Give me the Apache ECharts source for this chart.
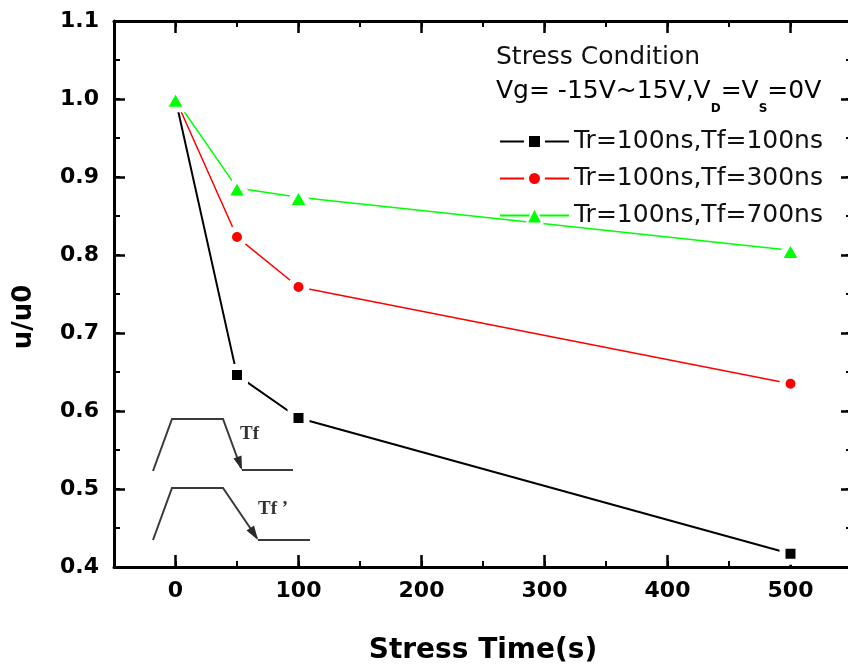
<!DOCTYPE html>
<html>
<head>
<meta charset="utf-8">
<title>Mobility degradation under pulse stress</title>
<script src="https://cdn.jsdelivr.net/npm/echarts@6/dist/echarts.min.js"></script>
<style>
  html, body { margin: 0; padding: 0; background: #fff; overflow: hidden; }
  #chart { width: 848px; height: 666px; }
</style>
</head>
<body>
<div id="chart"></div>
<script>
// Stress time (s) at which mobility ratio was measured
const stressTime = [0, 50, 100, 500];
// u/u0 for each fall-time condition
const tf100 = [1.0, 0.646, 0.591, 0.417];
const tf300 = [1.0, 0.823, 0.759, 0.635];
const tf700 = [1.0, 0.886, 0.874, 0.806];
const seriesNames = ['Tr=100ns,Tf=100ns', 'Tr=100ns,Tf=300ns', 'Tr=100ns,Tf=700ns'];

// Tick positions
const xMajor = [0, 100, 200, 300, 400, 500];
const yMajor = [0.4, 0.5, 0.6, 0.7, 0.8, 0.9, 1.0, 1.1];
const yLabels = ['0.4', '0.5', '0.6', '0.7', '0.8', '0.9', '1.0', '1.1'];

const X_MIN = -50, X_MAX = 550, Y_MIN = 0.4, Y_MAX = 1.1;

const tickFont = { fontFamily: 'DejaVu Sans', fontWeight: 'bold', fontSize: 22, color: '#000' };
const frame = { color: '#000', width: 3 };

function pairs(ys) { return stressTime.map((x, i) => [x, ys[i]]); }

// Frame axes: one set draws line, labels and short ticks; an overlay set draws the long major ticks.
function xAxisSet(position, withLabels) {
  return [
    {
      type: 'value', position, min: X_MIN, max: X_MAX, interval: 50,
      axisLine: { show: true, onZero: false, lineStyle: frame },
      axisTick: { show: true, inside: true, length: 6, lineStyle: { color: '#000', width: 2 } },
      axisLabel: withLabels
        ? Object.assign({ show: true, margin: 13, customValues: xMajor }, tickFont)
        : { show: false },
      splitLine: { show: false },
      name: withLabels ? 'Stress Time(s)' : '',
      nameLocation: 'middle', nameGap: 70,
      nameTextStyle: { fontFamily: 'DejaVu Sans', fontWeight: 'bold', fontSize: 28, color: '#000' }
    },
    {
      type: 'value', position, min: X_MIN, max: X_MAX, interval: 50,
      axisLine: { show: false, onZero: false },
      axisTick: { show: true, inside: true, length: 12, customValues: xMajor, lineStyle: { color: '#000', width: 2.5 } },
      axisLabel: { show: false },
      splitLine: { show: false }
    }
  ];
}

function yAxisSet(position, withLabels) {
  return [
    {
      type: 'value', position, min: Y_MIN, max: Y_MAX, interval: 0.05,
      axisLine: { show: true, onZero: false, lineStyle: frame },
      axisTick: { show: true, inside: true, length: 6, lineStyle: { color: '#000', width: 2 } },
      axisLabel: withLabels
        ? Object.assign({
            show: true, margin: 15, customValues: yMajor,
            formatter: v => yLabels[yMajor.findIndex(t => Math.abs(t - v) < 1e-6)] || ''
          }, tickFont)
        : { show: false },
      splitLine: { show: false }
    },
    {
      type: 'value', position, min: Y_MIN, max: Y_MAX, interval: 0.05,
      axisLine: { show: false, onZero: false },
      axisTick: { show: true, inside: true, length: 11, customValues: yMajor, lineStyle: { color: '#000', width: 2.5 } },
      axisLabel: { show: false },
      splitLine: { show: false }
    }
  ];
}

function lineSeries(name, ys, color, width, symbol, size) {
  return {
    name, type: 'line', data: pairs(ys),
    xAxisIndex: 0, yAxisIndex: 0,
    symbol, symbolSize: size, showAllSymbol: true,
    lineStyle: { color, width },
    itemStyle: { color, borderColor: '#fff', borderWidth: 6, borderJoin: 'round' },
    emphasis: { disabled: true },
    z: 3
  };
}

// Schematic of the gate pulse with a short and a long fall time
const pulseStyle = { stroke: '#3a3a3a', lineWidth: 2, fill: null };
const insetFont = { fontFamily: 'Liberation Serif', fontWeight: 'bold', fontSize: 19, fill: '#333', verticalAlign: 'middle' };
const inset = [
  { type: 'polyline', shape: { points: [[153, 471], [172, 419], [223, 419], [241, 468]] }, style: pulseStyle },
  { type: 'polyline', shape: { points: [[242, 470], [293, 470]] }, style: pulseStyle },
  { type: 'polygon', shape: { points: [[242, 470], [233.5, 458.5], [241.5, 455.5]] }, style: { fill: '#2a2a2a' } },
  { type: 'text', x: 240, y: 434, style: Object.assign({ text: 'Tf' }, insetFont) },

  { type: 'polyline', shape: { points: [[153, 540], [172, 488], [223, 488], [257, 538]] }, style: pulseStyle },
  { type: 'polyline', shape: { points: [[258, 540], [310, 540]] }, style: pulseStyle },
  { type: 'polygon', shape: { points: [[258, 540], [246.5, 530.5], [254, 525.5]] }, style: { fill: '#2a2a2a' } },
  { type: 'text', x: 258, y: 509, style: Object.assign({ text: 'Tf ’' }, insetFont) }
];

const legendText = { fontFamily: 'DejaVu Sans', fontSize: 25, color: '#111' };
const legendBorders = [5, 5, 2];

const option = {
  animation: false,
  backgroundColor: '#fff',
  // the frame's right edge sits just past the canvas edge, so keep the grid exactly as given
  grid: { left: 114, top: 21, width: 738, height: 546, containLabel: false, outerBoundsMode: 'none' },
  xAxis: [].concat(xAxisSet('bottom', true), xAxisSet('top', false)),
  yAxis: [].concat(yAxisSet('left', true), yAxisSet('right', false)),
  legend: {
    orient: 'vertical', left: 494, top: 124,
    itemWidth: 69, itemHeight: 20, itemGap: 12,
    selectedMode: false,
    textStyle: legendText,
    data: seriesNames.map((name, i) => ({
      name, itemStyle: { borderWidth: legendBorders[i], borderColor: '#fff' }
    }))
  },
  series: [
    lineSeries(seriesNames[0], tf100, '#000000', 2, 'rect', 16),
    lineSeries(seriesNames[1], tf300, '#ff0000', 1.5, 'circle', 16),
    lineSeries(seriesNames[2], tf700, '#00ff00', 1.5, 'triangle', [24, 21])
  ],
  graphic: [
    {
      type: 'text', x: 24, y: 317, rotation: Math.PI / 2,
      style: { text: 'u/u0', fontFamily: 'DejaVu Sans', fontWeight: 'bold', fontSize: 26, fill: '#000', align: 'center', verticalAlign: 'middle' }
    },
    {
      type: 'text', x: 496, y: 57,
      style: { text: 'Stress Condition', fontFamily: 'DejaVu Sans', fontSize: 25, fill: '#111', verticalAlign: 'middle' }
    },
    {
      type: 'text', x: 496, y: 79,
      style: {
        text: '{a|Vg= -15V~15V,V}{s|D}{a|=V}{s|S}{a|=0V}',
        verticalAlign: 'top',
        rich: {
          a: { fontFamily: 'DejaVu Sans', fontSize: 25, lineHeight: 28, color: '#111', verticalAlign: 'top' },
          s: { fontFamily: 'DejaVu Sans', fontWeight: 'bold', fontSize: 12, color: '#111', verticalAlign: 'top', padding: [24, 0, 0, 0] }
        }
      }
    }
  ].concat(inset)
};

const chart = echarts.init(document.getElementById('chart'), null, { renderer: 'canvas' });
chart.setOption(option);
</script>
</body>
</html>
